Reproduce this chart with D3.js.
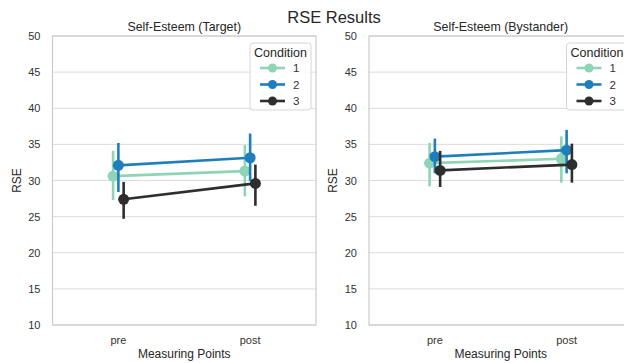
<!DOCTYPE html>
<html>
<head>
<meta charset="utf-8">
<script src="https://cdn.jsdelivr.net/npm/d3@7"></script>
<style>
  body { margin: 0; background: #fff; }
  text { font-family: "Liberation Sans", Arial, sans-serif; fill: #262626; }
</style>
</head>
<body>
<div id="chart"></div>
<script>
// data
const points = ['pre', 'post']
const conditions = ['1', '2', '3']
const colors = ['#8fd4b6', '#1f7fbb', '#2e2e2e']
const yTicks = [10, 15, 20, 25, 30, 35, 40, 45, 50]

// means per condition [pre, post]
const targetMean = [[30.6, 31.3], [32.1, 33.15], [27.4, 29.6]]
const targetLo = [[27.3, 27.8], [28.4, 29.9], [24.7, 26.5]]
const targetHi = [[34.1, 34.9], [35.2, 36.5], [29.8, 32.2]]

const bystMean = [[32.4, 33.0], [33.3, 34.2], [31.4, 32.2]]
const bystLo = [[29.2, 29.7], [31.0, 31.0], [29.1, 29.7]]
const bystHi = [[35.2, 36.1], [35.8, 37.0], [34.1, 35.1]]

const width = 624, height = 363
const panelW = 263.5, plotTop = 36, plotBottom = 325
const dodge = [-0.04, 0, 0.04]

const svg = d3.select('#chart').append('svg')
  .attr('width', width).attr('height', height)

svg.append('text').attr('x', 334).attr('y', 23)
  .attr('text-anchor', 'middle').style('font-size', '16.5px')
  .text('RSE Results')

const y = d3.scaleLinear().domain([10, 50]).range([plotBottom, plotTop])

let panel = (left, title, mean, lo, hi) => {
  const x = d3.scaleLinear().domain([-0.5, 1.5]).range([left, left + panelW])
  const g = svg.append('g')

  // grid
  g.selectAll('line.grid').data(yTicks).enter().append('line')
    .attr('x1', left).attr('x2', left + panelW)
    .attr('y1', d => y(d)).attr('y2', d => y(d))
    .attr('stroke', '#dcdcdc').attr('stroke-width', 1)

  // frame
  g.append('rect').attr('x', left).attr('y', plotTop)
    .attr('width', panelW).attr('height', plotBottom - plotTop)
    .attr('fill', 'none').attr('stroke', '#cccccc').attr('stroke-width', 1.2)

  // y tick labels
  g.selectAll('text.yt').data(yTicks).enter().append('text')
    .attr('x', left - 12).attr('y', d => y(d) + 4)
    .attr('text-anchor', 'end').style('font-size', '11px').style('fill', '#333')
    .text(d => d)

  // x tick labels
  g.selectAll('text.xt').data(points).enter().append('text')
    .attr('x', (d, i) => x(i)).attr('y', plotBottom + 19)
    .attr('text-anchor', 'middle').style('font-size', '11px').style('fill', '#333')
    .text(d => d)

  g.append('text').attr('x', left + panelW / 2).attr('y', plotTop - 5)
    .attr('text-anchor', 'middle').style('font-size', '12.4px').text(title)

  g.append('text').attr('x', left + panelW / 2).attr('y', 358)
    .attr('text-anchor', 'middle').style('font-size', '12px').text('Measuring Points')

  g.append('text')
    .attr('transform', `translate(${left - 32},${(plotTop + plotBottom) / 2}) rotate(-90)`)
    .attr('text-anchor', 'middle').style('font-size', '12px').text('RSE')

  // series
  conditions.forEach((c, k) => {
    const col = colors[k]
    const pts = points.map((p, i) => ({ i, m: mean[k][i], lo: lo[k][i], hi: hi[k][i] }))
    g.selectAll(null).data(pts).enter().append('line')
      .attr('x1', d => x(d.i + dodge[k])).attr('x2', d => x(d.i + dodge[k]))
      .attr('y1', d => y(d.lo)).attr('y2', d => y(d.hi))
      .attr('stroke', col).attr('stroke-width', 2.6)
    g.append('path').datum(pts)
      .attr('d', d3.line().x(d => x(d.i + dodge[k])).y(d => y(d.m)))
      .attr('fill', 'none').attr('stroke', col).attr('stroke-width', 2.6)
    g.selectAll(null).data(pts).enter().append('circle')
      .attr('cx', d => x(d.i + dodge[k])).attr('cy', d => y(d.m))
      .attr('r', 5.5).attr('fill', col)
  })

  // legend
  const lx = left + 197.5, ly = 43
  const lg = g.append('g')
  lg.append('rect').attr('x', lx).attr('y', ly).attr('width', 61).attr('height', 67)
    .attr('rx', 3).attr('fill', 'rgba(255,255,255,0.85)')
    .attr('stroke', '#d6d6d6').attr('stroke-width', 1)
  lg.append('text').attr('x', lx + 30.5).attr('y', ly + 14)
    .attr('text-anchor', 'middle').style('font-size', '12.5px').text('Condition')
  conditions.forEach((c, k) => {
    const yy = ly + 25 + k * 16.5
    lg.append('line').attr('x1', lx + 10).attr('x2', lx + 35)
      .attr('y1', yy).attr('y2', yy).attr('stroke', colors[k]).attr('stroke-width', 2.6)
    lg.append('circle').attr('cx', lx + 22.5).attr('cy', yy).attr('r', 4.5).attr('fill', colors[k])
    lg.append('text').attr('x', lx + 43).attr('y', yy + 4)
      .style('font-size', '11.5px').style('fill', '#333').text(c)
  })
}

panel(52.5, 'Self-Esteem (Target)', targetMean, targetLo, targetHi)
panel(369, 'Self-Esteem (Bystander)', bystMean, bystLo, bystHi)
</script>
</body>
</html>
